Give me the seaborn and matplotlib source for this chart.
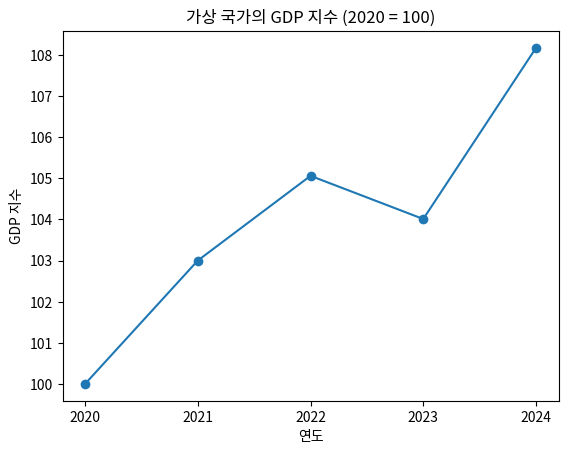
"""Hypothetical country GDP index (2020 = 100)."""

import pandas as pd
import seaborn as sns
import matplotlib
matplotlib.use("Agg")
import matplotlib.pyplot as plt

# Data
YEARS = [2020, 2021, 2022, 2023, 2024]
GDP_INDEX = [100.0, 103.0, 105.06, 104.01, 108.17]

plt.rcParams['font.family'] = ['Noto Sans CJK KR', 'DejaVu Sans']
plt.rcParams['axes.unicode_minus'] = False

df = pd.DataFrame({"연도": YEARS, "GDP 지수": GDP_INDEX})

fig, ax = plt.subplots(figsize=(6.4, 4.8), dpi=100)
sns.lineplot(data=df, x="연도", y="GDP 지수", marker="o", markersize=7,
             markeredgewidth=0, color="#1f77b4", linewidth=1.5, ax=ax)

ax.set_xticks(YEARS)
ax.set_title("가상 국가의 GDP 지수 (2020 = 100)")
ax.set_xlabel("연도")
ax.set_ylabel("GDP 지수")

plt.savefig("out.png", dpi=100, bbox_inches="tight")
